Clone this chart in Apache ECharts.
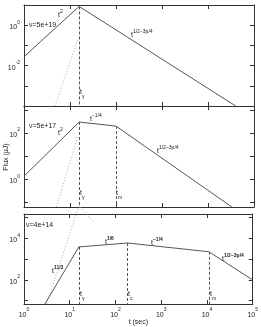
<!DOCTYPE html>
<html>
<head>
<meta charset="utf-8">
<script src="https://cdn.jsdelivr.net/npm/echarts@6/dist/echarts.min.js"></script>
<style>html,body{margin:0;padding:0;background:#fff}#c{width:261px;height:327px}</style>
</head>
<body>
<div id="c"></div>
<script>
// ---- data ----
const tTicks = [1, 10, 100, 1000, 10000, 100000];
const tLabels = [1, 10, 100, 1000, 10000, 100000];

const nuLabels = ['ν=5e+19', 'ν=5e+17', 'ν=4e+14'];

// panel 1 : nu = 5e19
const p1T = [1, 15.8, 40000];
const p1F = [0.0275, 8.5, 0.0001];
const p1DotT = [4.7, 14.8];
const p1DotF = [0.0001, 0.19];
const p1BreakIdx = [1];
const p1YTicks = [0.0001, 0.001, 0.01, 0.1, 1, 10];
const p1YLabels = [0.01, 1];

// panel 2 : nu = 5e17
const p2T = [1, 15.8, 100, 33000];
const p2F = [1.35, 300, 200, 0.063];
const p2DotT = [5.0, 14.8];
const p2DotF = [0.063, 68];
const p2BreakIdx = [1, 2];
const p2YTicks = [0.1, 1, 10, 100, 1000];
const p2YLabels = [1, 100];

// panel 3 : nu = 4e14
const p3T = [2.85, 15.8, 182, 11000, 100000];
const p3F = [6.9, 3800, 5900, 2240, 100];
const p3DotT = [3.1, 15.8, 35];
const p3DotF = [6.9, 350000, 55000];
const p3BreakIdx = [1, 2, 3];
const p3YTicks = [10, 100, 1000, 10000, 100000];
const p3YLabels = [100, 10000];

const yRanges = [[0.0001, 10], [0.063, 1480], [6.9, 145000]];

// ---- chart ----
const FONT = 'Liberation Sans, Arial, sans-serif';
const AX = '#333';
const LINE = '#555';
const grids = [
  {left: 24, right: 7, top: 5, height: 101},
  {left: 24, right: 7, top: 106, height: 101},
  {left: 24, right: 7, top: 214, height: 93}
];

function expOf(v) { return Math.round(Math.log10(v)); }
const powRich = {
  b: {fontSize: 7, fontFamily: FONT, color: '#222', verticalAlign: 'bottom', lineHeight: 11},
  s: {fontSize: 5, fontFamily: FONT, color: '#222', verticalAlign: 'top', lineHeight: 11}
};
function powFmt(v) { return '{b|10}{s|' + expOf(v) + '}'; }

const xAxes = [], yAxes = [], series = [];
const panels = [
  {T: p1T, F: p1F, DT: p1DotT, DF: p1DotF, br: p1BreakIdx, yt: p1YTicks, yl: p1YLabels, dotClip: true},
  {T: p2T, F: p2F, DT: p2DotT, DF: p2DotF, br: p2BreakIdx, yt: p2YTicks, yl: p2YLabels, dotClip: true},
  {T: p3T, F: p3F, DT: p3DotT, DF: p3DotF, br: p3BreakIdx, yt: p3YTicks, yl: p3YLabels, dotClip: false}
];

panels.forEach((p, i) => {
  const last = i === 2;
  const xb = {
    type: 'log', gridIndex: i, min: 1, max: 100000, position: 'bottom',
    axisLine: {show: true, onZero: false, lineStyle: {color: AX, width: 1}},
    axisTick: {show: true, inside: true, length: 4, lineStyle: {color: AX}, customValues: tTicks},
    axisLabel: {show: last, margin: 3, customValues: tLabels, formatter: powFmt, rich: powRich},
    splitLine: {show: false}, minorTick: {show: false}
  };
  if (last) {
    xb.name = 't (sec)';
    xb.nameLocation = 'middle';
    xb.nameGap = 14;
    xb.nameTextStyle = {fontSize: 7, fontFamily: FONT, color: '#222'};
  }
  xAxes.push(xb);
  xAxes.push({
    type: 'log', gridIndex: i, min: 1, max: 100000, position: 'top',
    axisLine: {show: true, onZero: false, lineStyle: {color: AX, width: 1}},
    axisTick: {show: true, inside: true, length: 4, lineStyle: {color: AX}, customValues: tTicks},
    axisLabel: {show: false}, splitLine: {show: false}
  });
  yAxes.push({
    type: 'log', gridIndex: i, min: yRanges[i][0], max: yRanges[i][1], position: 'left',
    axisLine: {show: true, onZero: false, lineStyle: {color: AX, width: 1}},
    axisTick: {show: true, inside: true, length: 4, lineStyle: {color: AX}, customValues: p.yt},
    axisLabel: {show: true, margin: 4, customValues: p.yl, formatter: powFmt, rich: powRich},
    splitLine: {show: false}
  });
  yAxes.push({
    type: 'log', gridIndex: i, min: yRanges[i][0], max: yRanges[i][1], position: 'right',
    axisLine: {show: true, onZero: false, lineStyle: {color: AX, width: 1}},
    axisTick: {show: true, inside: true, length: 4, lineStyle: {color: AX}, customValues: p.yt},
    axisLabel: {show: false}, splitLine: {show: false}
  });
  const xi = i * 2, yi = i * 2;
  const yMin = yRanges[i][0];
  series.push({
    type: 'line', xAxisIndex: xi, yAxisIndex: yi, symbol: 'none', silent: true,
    data: p.T.map((t, k) => [t, p.F[k]]),
    lineStyle: {color: LINE, width: 1}, z: 3,
    markLine: {
      symbol: 'none', silent: true, label: {show: false},
      lineStyle: {color: LINE, width: 1, type: [3, 2]},
      data: p.br.map(k => [{coord: [p.T[k], p.F[k]]}, {coord: [p.T[k], yMin]}])
    }
  });
  series.push({
    type: 'line', xAxisIndex: xi, yAxisIndex: yi, symbol: 'none', silent: true, clip: p.dotClip,
    data: p.DT.map((t, k) => [t, p.DF[k]]),
    lineStyle: {color: '#aaa', width: 1, type: [1, 2]}, z: 2
  });
});

const supRich = {
  t: {fontSize: 7, fontFamily: FONT, color: '#222', verticalAlign: 'bottom', lineHeight: 10},
  s: {fontSize: 5, fontFamily: FONT, color: '#222', verticalAlign: 'top', lineHeight: 10},
  sb: {fontSize: 5, fontFamily: FONT, color: '#222', fontWeight: 'bold', verticalAlign: 'top', lineHeight: 10}
};
const subRich = {
  t: {fontSize: 7, fontFamily: FONT, color: '#222', verticalAlign: 'top', lineHeight: 10},
  s: {fontSize: 5, fontFamily: FONT, color: '#222', verticalAlign: 'bottom', lineHeight: 10}
};
function txt(x, y, text, rich) {
  return {type: 'text', x: x, y: y, silent: true,
    style: {text: text, rich: rich, font: '7px ' + FONT, fill: '#222', textVerticalAlign: 'middle'}};
}
const graphics = [
  txt(29, 25, nuLabels[0], null),
  txt(29, 126, nuLabels[1], null),
  txt(26, 225, nuLabels[2], null),
  // panel 1
  txt(58, 14, '{t|t}{s|2}', supRich),
  txt(131, 34, '{t|t}{s|1/2−3p/4}', supRich),
  txt(80, 94, '{t|t}{s|γ}', subRich),
  // panel 2
  txt(58, 132, '{t|t}{s|2}', supRich),
  txt(90, 118, '{t|t}{s|−1/4}', supRich),
  txt(157, 150, '{t|t}{s|1/2−3p/4}', supRich),
  txt(80, 195, '{t|t}{s|γ}', subRich),
  txt(116, 195, '{t|t}{s|m}', subRich),
  // panel 3
  txt(52, 270, '{t|t}{sb|11/3}', supRich),
  txt(105, 241, '{t|t}{sb|1/6}', supRich),
  txt(151, 242, '{t|t}{sb|−1/4}', supRich),
  txt(222, 258, '{t|t}{sb|1/2−3p/4}', supRich),
  txt(80, 296, '{t|t}{s|γ}', subRich),
  txt(128, 296, '{t|t}{s|c}', subRich),
  txt(210, 296, '{t|t}{s|m}', subRich),
  // y axis name
  {type: 'text', x: 6, y: 157, rotation: Math.PI / 2, silent: true,
   style: {text: 'Flux (μJ)', font: '7px ' + FONT, fill: '#222', textAlign: 'center', textVerticalAlign: 'middle'}}
];

const chart = echarts.init(document.getElementById('c'), null, {renderer: 'canvas'});
chart.setOption({
  animation: false,
  backgroundColor: '#fff',
  grid: grids,
  xAxis: xAxes,
  yAxis: yAxes,
  series: series,
  graphic: graphics
});
</script>
</body>
</html>
